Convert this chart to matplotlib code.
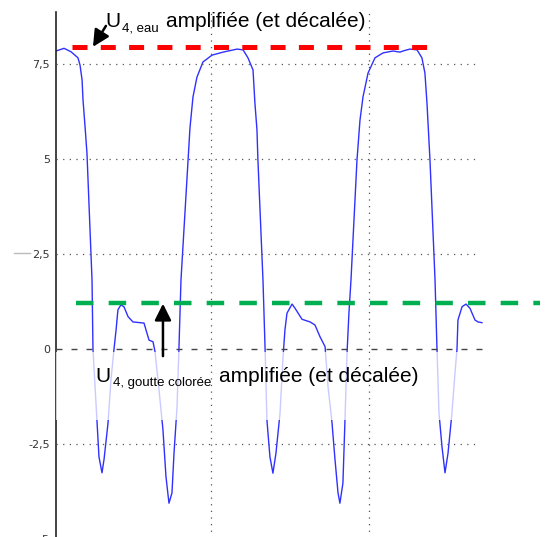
import matplotlib
matplotlib.use("Agg")
import matplotlib.pyplot as plt
from matplotlib.lines import Line2D

# ---- data (time in ms, signal in V) ----
t_ms = [0.19, 0.70, 1.14, 1.58, 1.71, 1.84, 1.90, 2.03, 2.15, 2.47, 2.53, 2.78, 2.91, 3.10, 3.23,
        3.48, 3.67, 3.86, 3.99, 4.11, 4.30, 4.49, 4.75, 5.06, 5.76, 5.95, 6.08, 6.33, 6.46, 6.71,
        6.96, 7.15, 7.34, 7.53, 7.66, 7.85, 7.97, 8.10, 8.67, 8.86, 9.11, 9.49, 10.06, 10.76, 11.65,
        12.03, 12.34, 12.66, 12.78, 12.91, 12.97, 13.29, 13.42, 13.54, 13.73, 13.92, 14.11, 14.37,
        14.56, 14.68, 14.81, 15.13, 15.32, 15.76, 16.27, 16.58, 16.90, 17.22, 17.41, 17.66, 17.85,
        18.04, 18.16, 18.35, 18.48, 18.61, 18.73, 18.86, 19.24, 19.43, 19.62, 19.94, 20.38, 20.89,
        21.52, 21.96, 22.15, 22.59, 23.04, 23.35, 23.54, 23.67, 23.86, 24.18, 24.30, 24.43, 24.62,
        24.81, 25.00, 25.25, 25.44, 25.57, 25.63, 25.89, 26.14, 26.39, 26.71, 26.90, 27.15]
u4 = [7.85, 7.92, 7.83, 7.67, 7.48, 7.09, 6.56, 5.85, 5.16, 1.82, 0.00, -1.86, -2.83, -3.25, -2.90,
      -1.95, -0.80, 0.00, 0.50, 1.04, 1.17, 1.12, 0.86, 0.72, 0.69, 0.42, 0.24, 0.20, -0.07, -1.07,
      -2.12, -3.35, -4.05, -3.78, -2.73, -1.52, 0.00, 1.82, 5.83, 6.64, 7.16, 7.56, 7.74, 7.82, 7.90,
      7.88, 7.67, 7.35, 6.48, 5.77, 4.98, 1.82, 0.06, -1.86, -2.83, -3.26, -2.74, -1.68,
      -0.20, 0.51, 0.95, 1.19, 1.08, 0.79, 0.72, 0.64, 0.33, 0.07, -0.99, -1.94, -2.91,
      -3.78, -4.05, -3.52, -1.86, -0.10, 0.95, 1.82, 4.98, 6.03, 6.64, 7.27, 7.67, 7.80,
      7.85, 7.82, 7.85, 7.90, 7.88, 7.67, 7.27, 6.48, 4.98, 1.82, 0.06, -1.68, -2.56,
      -3.25, -2.74, -1.68, -0.63, 0.00, 0.77, 1.12, 1.19, 1.08, 0.77, 0.72, 0.70]

eau_level = 7.96
eau_span = [1.2, 24.37]
goutte_level = 1.22
goutte_span = [1.46, 30.8]
ytick_vals = [-5, -2.5, 0, 2.5, 5, 7.5]
ytick_labels = ['-5', '-2,5', '0', '2,5', '5', '7,5']
hgrid_vals = [7.5, 5, 2.5, -2.5]
vgrid_vals = [10, 20]

fig = plt.figure(figsize=(5.48, 5.37), dpi=100)
ax = fig.add_axes([56/548, 1 - 539.3/537, 492/548, 527.3/537])
ax.set_xlim(0.19, 31.33)
ax.set_ylim(-5, 8.876)

for s in ['top', 'right', 'bottom']:
    ax.spines[s].set_visible(False)
ax.spines['left'].set_color('#222222')
ax.spines['left'].set_linewidth(1.2)
ax.set_xticks([])
ax.set_yticks(ytick_vals)
ax.set_yticklabels(ytick_labels, fontsize=8, color='#333333', family='DejaVu Sans')
ax.tick_params(axis='y', length=0, pad=4.5)

# small grey stub left of the 2,5 label (as in the reference screenshot)
fig.add_artist(Line2D([14/548, 30/548], [1 - 253/537, 1 - 253/537], color='#bbbbbb', lw=1.0))

xmax_data = t_ms[-1]
grid_end = 26.9
for y in hgrid_vals:
    ax.plot([0.19, grid_end], [y, y], color='#555555', lw=0.9, dashes=(1, 4.3), zorder=4)
for x in vgrid_vals:
    ax.axvline(x, color='#555555', lw=0.9, dashes=(1, 4.3), zorder=4)
ax.plot([0.19, xmax_data], [0, 0], color='#444444', lw=1.0, dashes=(4.3, 6.5), zorder=4)

ax.plot(t_ms, u4, color='#3030ff', lw=1.0, zorder=2)
ax.axhspan(-1.86, -0.08, color='white', alpha=0.75, lw=0, zorder=3)

ax.plot(eau_span, [eau_level, eau_level], color='#ff0000', lw=3.6, dashes=(3.0, 2.66), zorder=5)
ax.plot(goutte_span, [goutte_level, goutte_level], color='#00b050', lw=3.2,
        dashes=(3.94, 3.41), zorder=5)

arrow_kw = dict(arrowstyle='-|>,head_length=0.4,head_width=0.2', color='black', lw=1.8,
                mutation_scale=25, shrinkA=0, shrinkB=0)
ax.annotate('', xy=(2.53, eau_level), xytext=(3.35, 8.51), arrowprops=arrow_kw, zorder=6)
ax.annotate('', xy=(6.96, 1.2), xytext=(6.96, -0.18), arrowprops=arrow_kw, zorder=6)


def label(x, y, sub, sub_dx, rest_dx):
    kw = dict(family='Liberation Sans', va='baseline', ha='left', zorder=7,
              annotation_clip=False, textcoords='offset points')
    ax.annotate('U', xy=(x, y), xytext=(0, 0), fontsize=15, **kw)
    ax.annotate(sub, xy=(x, y), xytext=(sub_dx, -3), fontsize=9.5, **kw)
    ax.annotate('amplifiée (et décalée)', xy=(x, y), xytext=(rest_dx, 0), fontsize=15, **kw)


label(3.29, 8.48, '4, eau', 12.5, 44)
label(2.66, -0.86, '4, goutte colorée', 13.2, 89)

fig.savefig('out.png', dpi=100)
